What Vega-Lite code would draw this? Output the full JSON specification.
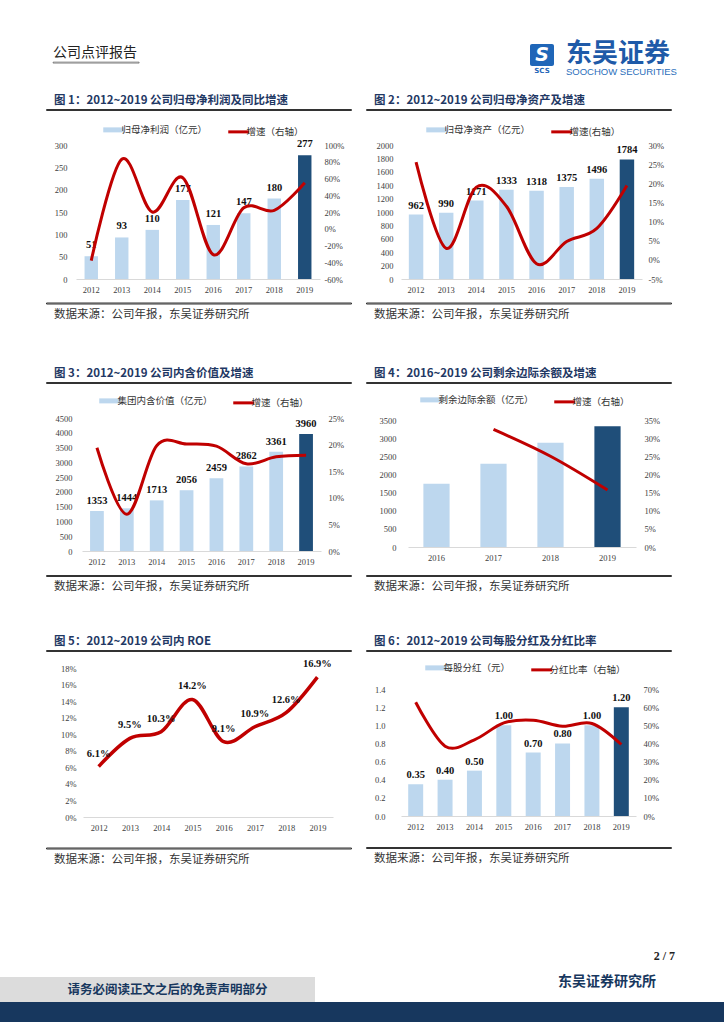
{
  "$schema": "https://vega.github.io/schema/vega-lite/v6.json",
  "padding": {"top": 41, "left": 0, "right": 0, "bottom": 0},
  "background": "white",
  "config": {
    "view": {"stroke": null},
    "font": "Noto Sans CJK SC",
    "axis": {"domain": false, "ticks": false, "grid": false, "labelFont": "Liberation Serif", "labelFontSize": 8.5, "labelColor": "#404040"},
    "axisX": {"domain": true, "domainColor": "#d9d9d9", "domainWidth": 1, "labelAngle": 0, "labelPadding": 6.5},
    "title": {"font": "Noto Sans CJK SC", "fontSize": 11.5, "fontWeight": "bold", "color": "#1f3864", "anchor": "start", "offset": 3, "dx": 8},
    "legend": {"orient": "none", "direction": "horizontal", "symbolType": "stroke", "symbolSize": 441, "labelFont": "Noto Sans CJK SC", "labelFontSize": 9.5, "labelColor": "#333", "columnPadding": 14, "labelOffset": 3}
  },
  "spacing": 0,
  "resolve": {"scale": {"color": "independent"}, "legend": {"color": "independent"}},
  "vconcat": [
    {
      "spacing": 0,
      "hconcat": [
        {"width": 52, "height": 1, "data": {"values": []}, "mark": "text", "encoding": {}},
        {"spacing": 0, "vconcat": [
          {"width": 1, "height": 1, "data": {"values": []}, "mark": "text", "encoding": {}},
          {"width": 86, "height": 1, "view": {"stroke": "#444", "strokeWidth": 0.6}, "data": {"values": []}, "mark": "text", "encoding": {},
           "title": {"text": "公司点评报告", "font": "Noto Sans CJK SC", "fontSize": 14, "fontWeight": "normal", "color": "#222", "anchor": "start", "offset": 2, "dx": 0}}
        ]},
        {"width": 390, "height": 1, "data": {"values": []}, "mark": "text", "encoding": {}},
        {"width": 24, "height": 22, "view": {"fill": "#1f66b8", "cornerRadius": 2, "stroke": null},
         "data": {"values": [{"t": "S"}]},
         "mark": {"type": "text", "color": "white", "font": "DejaVu Sans", "fontSize": 19, "fontWeight": "bold", "fontStyle": "italic"},
         "encoding": {"text": {"field": "t"}},
         "title": {"text": "SCS", "orient": "bottom", "anchor": "middle", "font": "DejaVu Sans", "fontSize": 7, "fontWeight": "bold", "color": "#1f66b8", "offset": 1, "dx": 0}},
        {"width": 12, "height": 1, "data": {"values": []}, "mark": "text", "encoding": {}},
        {"width": 110, "height": 1, "data": {"values": []}, "mark": "text", "encoding": {},
         "title": {"text": "东吴证券", "subtitle": "SOOCHOW SECURITIES", "orient": "bottom", "font": "Noto Sans CJK SC", "fontSize": 26, "fontWeight": "bold", "color": "#1e5aa8", "subtitleFont": "Liberation Sans", "subtitleFontSize": 9.5, "subtitleColor": "#2a6ebb", "subtitlePadding": 0, "anchor": "start", "offset": -4, "dx": 0}}
      ]
    },
    {"width": 1, "height": 17, "data": {"values": []}, "mark": "text", "encoding": {}},
    {
      "spacing": 0,
      "resolve": {"scale": {"color": "independent"}, "legend": {"color": "independent"}},
      "hconcat": [
        {"width": 45, "height": 1, "data": {"values": []}, "mark": "text", "encoding": {}},
        {
          "spacing": 14,
          "resolve": {"scale": {"color": "independent"}, "legend": {"color": "independent"}},
          "vconcat": [
            {"width": 305, "height": 1, "view": {"stroke": "#333", "strokeWidth": 1}, "data": {"values": []}, "mark": "text", "encoding": {}, "title": {"text": "图 1：2012~2019 公司归母净利润及同比增速"}},
            {
              "spacing": 7.5,
              "resolve": {"scale": {"color": "independent"}, "legend": {"color": "independent"}},
              "vconcat": [
                {"spacing": 0, "resolve": {"scale": {"color": "independent"}, "legend": {"color": "independent"}}, "hconcat": [
                  {"width": 1, "height": 1, "data": {"values": []}, "mark": "text", "encoding": {}},
                  {
                    "width": 244, "height": 134,
                    "data": {"values": [
                      {"year": "2012", "v": 51, "g": -0.38},
                      {"year": "2013", "v": 93, "g": 0.83},
                      {"year": "2014", "v": 110, "g": 0.2},
                      {"year": "2015", "v": 177, "g": 0.61},
                      {"year": "2016", "v": 121, "g": -0.31},
                      {"year": "2017", "v": 147, "g": 0.25},
                      {"year": "2018", "v": 180, "g": 0.22},
                      {"year": "2019", "v": 277, "g": 0.55}
                    ]},
                    "encoding": {"x": {"field": "year", "type": "ordinal", "scale": {"paddingInner": 0.56, "paddingOuter": 0.28}, "axis": {"title": null}}},
                    "layer": [
                      {
                        "encoding": {"y": {"field": "v", "type": "quantitative", "scale": {"domain": [0, 300]}, "axis": {"title": null, "orient": "left", "values": [0, 50, 100, 150, 200, 250, 300], "format": "d", "labelPadding": 9, "minExtent": 29, "maxExtent": 29}}},
                        "layer": [
                          {"transform": [{"filter": "datum.year != '2019'"}], "mark": "bar",
                           "encoding": {"color": {"datum": "归母净利润（亿元）", "scale": {"domain": ["归母净利润（亿元）", "增速（右轴）"], "range": ["#bdd7ee", "#c00000"]},
                             "legend": {"title": null, "legendX": 33, "legendY": -20, "encode": {"symbols": {"update": {"stroke": {"scale": "color", "field": "value"}, "strokeWidth": {"signal": "datum.index === 0 ? 5 : 3"}}}}}}}},
                          {"transform": [{"filter": "datum.year == '2019'"}], "mark": {"type": "bar", "color": "#1f4e79"}},
                          {"mark": {"type": "text", "dy": -11, "font": "Liberation Serif", "fontWeight": "bold", "fontSize": 10.5, "color": "#111"}, "encoding": {"text": {"field": "v", "type": "quantitative"}}}
                        ]
                      },
                      {"mark": {"type": "line", "interpolate": "cardinal", "strokeWidth": 3},
                       "encoding": {
                         "y": {"field": "g", "type": "quantitative", "scale": {"domain": [-0.6, 1]}, "axis": {"title": null, "orient": "right", "values": [-0.6, -0.4, -0.2, 0, 0.2, 0.4, 0.6, 0.8, 1], "labelExpr": "(datum.value < 0 ? '-' : '') + round(abs(datum.value) * 100) + '%'", "labelPadding": 4}},
                         "color": {"datum": "增速（右轴）", "legend": {"title": null, "legendX": 33, "legendY": -20, "encode": {"symbols": {"update": {"stroke": {"scale": "color", "field": "value"}, "strokeWidth": {"signal": "datum.index === 0 ? 5 : 3"}}}}}}
                       }}
                    ],
                    "resolve": {"scale": {"y": "independent"}}
                  }
                ]},
                {"width": 305, "height": 1, "view": {"stroke": "#333", "strokeWidth": 1}, "data": {"values": []}, "mark": "text", "encoding": {}, "title": {"text": "数据来源：公司年报，东吴证券研究所", "orient": "bottom", "anchor": "start", "fontSize": 11.5, "fontWeight": "normal", "color": "#333", "offset": 5}}
              ]
            }
          ]
        },
        {"width": 13, "height": 1, "data": {"values": []}, "mark": "text", "encoding": {}},
        {
          "spacing": 14,
          "resolve": {"scale": {"color": "independent"}, "legend": {"color": "independent"}},
          "vconcat": [
            {"width": 305, "height": 1, "view": {"stroke": "#333", "strokeWidth": 1}, "data": {"values": []}, "mark": "text", "encoding": {}, "title": {"text": "图 2：2012~2019 公司归母净资产及增速"}},
            {
              "spacing": 7.5,
              "resolve": {"scale": {"color": "independent"}, "legend": {"color": "independent"}},
              "vconcat": [
                {"spacing": 0, "resolve": {"scale": {"color": "independent"}, "legend": {"color": "independent"}}, "hconcat": [
                  {"width": 1, "height": 1, "data": {"values": []}, "mark": "text", "encoding": {}},
                  {
                    "width": 241, "height": 134,
                    "data": {"values": [
                      {"year": "2012", "v": 962, "g": 0.255},
                      {"year": "2013", "v": 990, "g": 0.03},
                      {"year": "2014", "v": 1171, "g": 0.19},
                      {"year": "2015", "v": 1333, "g": 0.14},
                      {"year": "2016", "v": 1318, "g": -0.01},
                      {"year": "2017", "v": 1375, "g": 0.048},
                      {"year": "2018", "v": 1496, "g": 0.082},
                      {"year": "2019", "v": 1784, "g": 0.194}
                    ]},
                    "encoding": {"x": {"field": "year", "type": "ordinal", "scale": {"paddingInner": 0.52, "paddingOuter": 0.26}, "axis": {"title": null}}},
                    "layer": [
                      {
                        "encoding": {"y": {"field": "v", "type": "quantitative", "scale": {"domain": [0, 2000]}, "axis": {"title": null, "orient": "left", "values": [0, 200, 400, 600, 800, 1000, 1200, 1400, 1600, 1800, 2000], "format": "d", "labelPadding": 8, "minExtent": 34, "maxExtent": 34}}},
                        "layer": [
                          {"transform": [{"filter": "datum.year != '2019'"}], "mark": "bar",
                           "encoding": {"color": {"datum": "归母净资产（亿元）", "scale": {"domain": ["归母净资产（亿元）", "增速(右轴）"], "range": ["#bdd7ee", "#c00000"]},
                             "legend": {"title": null, "legendX": 31, "legendY": -20, "encode": {"symbols": {"update": {"stroke": {"scale": "color", "field": "value"}, "strokeWidth": {"signal": "datum.index === 0 ? 5 : 3"}}}}}}}},
                          {"transform": [{"filter": "datum.year == '2019'"}], "mark": {"type": "bar", "color": "#1f4e79"}},
                          {"mark": {"type": "text", "dy": -9, "font": "Liberation Serif", "fontWeight": "bold", "fontSize": 10.5, "color": "#111"}, "encoding": {"text": {"field": "v", "type": "quantitative", "format": "d"}}}
                        ]
                      },
                      {"mark": {"type": "line", "interpolate": "cardinal", "strokeWidth": 3},
                       "encoding": {
                         "y": {"field": "g", "type": "quantitative", "scale": {"domain": [-0.05, 0.3]}, "axis": {"title": null, "orient": "right", "values": [-0.05, 0, 0.05, 0.1, 0.15, 0.2, 0.25, 0.3], "labelExpr": "(datum.value < 0 ? '-' : '') + round(abs(datum.value) * 100) + '%'", "labelPadding": 6}},
                         "color": {"datum": "增速(右轴）", "legend": {"title": null, "legendX": 31, "legendY": -20, "encode": {"symbols": {"update": {"stroke": {"scale": "color", "field": "value"}, "strokeWidth": {"signal": "datum.index === 0 ? 5 : 3"}}}}}}
                       }}
                    ],
                    "resolve": {"scale": {"y": "independent"}}
                  }
                ]},
                {"width": 305, "height": 1, "view": {"stroke": "#333", "strokeWidth": 1}, "data": {"values": []}, "mark": "text", "encoding": {}, "title": {"text": "数据来源：公司年报，东吴证券研究所", "orient": "bottom", "anchor": "start", "fontSize": 11.5, "fontWeight": "normal", "color": "#333", "offset": 5}}
              ]
            }
          ]
        }
      ]
    },
    {"width": 1, "height": 46, "data": {"values": []}, "mark": "text", "encoding": {}},
    {
      "spacing": 0,
      "resolve": {"scale": {"color": "independent"}, "legend": {"color": "independent"}},
      "hconcat": [
        {"width": 45, "height": 1, "data": {"values": []}, "mark": "text", "encoding": {}},
        {
          "spacing": 12,
          "resolve": {"scale": {"color": "independent"}, "legend": {"color": "independent"}},
          "vconcat": [
            {"width": 305, "height": 1, "view": {"stroke": "#333", "strokeWidth": 1}, "data": {"values": []}, "mark": "text", "encoding": {}, "title": {"text": "图 3：2012~2019 公司内含价值及增速"}},
            {
              "spacing": 8,
              "resolve": {"scale": {"color": "independent"}, "legend": {"color": "independent"}},
              "vconcat": [
                {"spacing": 0, "resolve": {"scale": {"color": "independent"}, "legend": {"color": "independent"}}, "hconcat": [
                  {"width": 1, "height": 1, "data": {"values": []}, "mark": "text", "encoding": {}},
                  {
                    "width": 239, "height": 133,
                    "data": {"values": [
                      {"year": "2012", "v": 1353, "g": 0.194},
                      {"year": "2013", "v": 1444, "g": 0.069},
                      {"year": "2014", "v": 1713, "g": 0.198},
                      {"year": "2015", "v": 2056, "g": 0.201},
                      {"year": "2016", "v": 2459, "g": 0.197},
                      {"year": "2017", "v": 2862, "g": 0.164},
                      {"year": "2018", "v": 3361, "g": 0.177},
                      {"year": "2019", "v": 3960, "g": 0.18}
                    ]},
                    "encoding": {"x": {"field": "year", "type": "ordinal", "scale": {"paddingInner": 0.54, "paddingOuter": 0.27}, "axis": {"title": null}}},
                    "layer": [
                      {
                        "encoding": {"y": {"field": "v", "type": "quantitative", "scale": {"domain": [0, 4500]}, "axis": {"title": null, "orient": "left", "values": [0, 500, 1000, 1500, 2000, 2500, 3000, 3500, 4000, 4500], "format": "d", "labelPadding": 10, "minExtent": 35, "maxExtent": 35}}},
                        "layer": [
                          {"transform": [{"filter": "datum.year != '2019'"}], "mark": "bar",
                           "encoding": {"color": {"datum": "集团内含价值（亿元）", "scale": {"domain": ["集团内含价值（亿元）", "增速（右轴）"], "range": ["#bdd7ee", "#c00000"]},
                             "legend": {"title": null, "legendX": 23, "legendY": -22, "encode": {"symbols": {"update": {"stroke": {"scale": "color", "field": "value"}, "strokeWidth": {"signal": "datum.index === 0 ? 5 : 3"}}}}}}}},
                          {"transform": [{"filter": "datum.year == '2019'"}], "mark": {"type": "bar", "color": "#1f4e79"}},
                          {"mark": {"type": "text", "dy": -10, "font": "Liberation Serif", "fontWeight": "bold", "fontSize": 10.5, "color": "#111"}, "encoding": {"text": {"field": "v", "type": "quantitative", "format": "d"}}}
                        ]
                      },
                      {"mark": {"type": "line", "interpolate": "cardinal", "strokeWidth": 3},
                       "encoding": {
                         "y": {"field": "g", "type": "quantitative", "scale": {"domain": [0, 0.25]}, "axis": {"title": null, "orient": "right", "values": [0, 0.05, 0.1, 0.15, 0.2, 0.25], "labelExpr": "(datum.value < 0 ? '-' : '') + round(abs(datum.value) * 100) + '%'", "labelPadding": 7}},
                         "color": {"datum": "增速（右轴）", "legend": {"title": null, "legendX": 23, "legendY": -22, "encode": {"symbols": {"update": {"stroke": {"scale": "color", "field": "value"}, "strokeWidth": {"signal": "datum.index === 0 ? 5 : 3"}}}}}}
                       }}
                    ],
                    "resolve": {"scale": {"y": "independent"}}
                  }
                ]},
                {"width": 305, "height": 1, "view": {"stroke": "#333", "strokeWidth": 1}, "data": {"values": []}, "mark": "text", "encoding": {}, "title": {"text": "数据来源：公司年报，东吴证券研究所", "orient": "bottom", "anchor": "start", "fontSize": 11.5, "fontWeight": "normal", "color": "#333", "offset": 5}}
              ]
            }
          ]
        },
        {"width": 13, "height": 1, "data": {"values": []}, "mark": "text", "encoding": {}},
        {
          "spacing": 11,
          "resolve": {"scale": {"color": "independent"}, "legend": {"color": "independent"}},
          "vconcat": [
            {"width": 305, "height": 1, "view": {"stroke": "#333", "strokeWidth": 1}, "data": {"values": []}, "mark": "text", "encoding": {}, "title": {"text": "图 4：2016~2019 公司剩余边际余额及增速"}},
            {
              "spacing": 12,
              "resolve": {"scale": {"color": "independent"}, "legend": {"color": "independent"}},
              "vconcat": [
                {"spacing": 0, "resolve": {"scale": {"color": "independent"}, "legend": {"color": "independent"}}, "hconcat": [
                  {"width": 1, "height": 1, "data": {"values": []}, "mark": "text", "encoding": {}},
                  {
                    "width": 228, "height": 127,
                    "data": {"values": [
                      {"year": "2016", "v": 1741, "g": null},
                      {"year": "2017", "v": 2293, "g": 0.324},
                      {"year": "2018", "v": 2874, "g": 0.25},
                      {"year": "2019", "v": 3325, "g": 0.157}
                    ]},
                    "encoding": {"x": {"field": "year", "type": "ordinal", "scale": {"paddingInner": 0.54, "paddingOuter": 0.27}, "axis": {"title": null}}},
                    "layer": [
                      {
                        "encoding": {"y": {"field": "v", "type": "quantitative", "scale": {"domain": [0, 3500]}, "axis": {"title": null, "orient": "left", "values": [0, 500, 1000, 1500, 2000, 2500, 3000, 3500], "format": "d", "labelPadding": 12, "minExtent": 41, "maxExtent": 41}}},
                        "layer": [
                          {"transform": [{"filter": "datum.year != '2019'"}], "mark": "bar",
                           "encoding": {"color": {"datum": "剩余边际余额（亿元）", "scale": {"domain": ["剩余边际余额（亿元）", "增速（右轴）"], "range": ["#bdd7ee", "#c00000"]},
                             "legend": {"title": null, "legendX": 18, "legendY": -25, "encode": {"symbols": {"update": {"stroke": {"scale": "color", "field": "value"}, "strokeWidth": {"signal": "datum.index === 0 ? 5 : 3"}}}}}}}},
                          {"transform": [{"filter": "datum.year == '2019'"}], "mark": {"type": "bar", "color": "#1f4e79"}}
                        ]
                      },
                      {"mark": {"type": "line", "interpolate": "cardinal", "strokeWidth": 3},
                       "encoding": {
                         "y": {"field": "g", "type": "quantitative", "scale": {"domain": [0, 0.35]}, "axis": {"title": null, "orient": "right", "values": [0, 0.05, 0.1, 0.15, 0.2, 0.25, 0.3, 0.35], "labelExpr": "(datum.value < 0 ? '-' : '') + round(abs(datum.value) * 100) + '%'", "labelPadding": 8}},
                         "color": {"datum": "增速（右轴）", "legend": {"title": null, "legendX": 18, "legendY": -25, "encode": {"symbols": {"update": {"stroke": {"scale": "color", "field": "value"}, "strokeWidth": {"signal": "datum.index === 0 ? 5 : 3"}}}}}}
                       }}
                    ],
                    "resolve": {"scale": {"y": "independent"}}
                  }
                ]},
                {"width": 305, "height": 1, "view": {"stroke": "#333", "strokeWidth": 1}, "data": {"values": []}, "mark": "text", "encoding": {}, "title": {"text": "数据来源：公司年报，东吴证券研究所", "orient": "bottom", "anchor": "start", "fontSize": 11.5, "fontWeight": "normal", "color": "#333", "offset": 5}}
              ]
            }
          ]
        }
      ]
    },
    {"width": 1, "height": 41.5, "data": {"values": []}, "mark": "text", "encoding": {}},
    {
      "spacing": 0,
      "resolve": {"scale": {"color": "independent"}, "legend": {"color": "independent"}},
      "hconcat": [
        {"width": 45, "height": 1, "data": {"values": []}, "mark": "text", "encoding": {}},
        {
          "spacing": 7,
          "resolve": {"scale": {"color": "independent"}, "legend": {"color": "independent"}},
          "vconcat": [
            {"width": 305, "height": 1, "view": {"stroke": "#333", "strokeWidth": 1}, "data": {"values": []}, "mark": "text", "encoding": {}, "title": {"text": "图 5：2012~2019 公司内 ROE"}},
            {
              "spacing": 14.5,
              "resolve": {"scale": {"color": "independent"}, "legend": {"color": "independent"}},
              "vconcat": [
                {"spacing": 0, "hconcat": [
                  {"width": 1, "height": 1, "data": {"values": []}, "mark": "text", "encoding": {}},
                  {
                    "width": 250, "height": 149,
                    "data": {"values": [
                      {"year": "2012", "r": 0.061},
                      {"year": "2013", "r": 0.095},
                      {"year": "2014", "r": 0.103},
                      {"year": "2015", "r": 0.142},
                      {"year": "2016", "r": 0.091},
                      {"year": "2017", "r": 0.109},
                      {"year": "2018", "r": 0.126},
                      {"year": "2019", "r": 0.169}
                    ]},
                    "encoding": {
                      "x": {"field": "year", "type": "ordinal", "axis": {"title": null}},
                      "y": {"field": "r", "type": "quantitative", "scale": {"domain": [0, 0.18]}, "axis": {"title": null, "values": [0, 0.02, 0.04, 0.06, 0.08, 0.1, 0.12, 0.14, 0.16, 0.18], "labelExpr": "round(datum.value * 100) + '%'", "labelPadding": 7, "minExtent": 36, "maxExtent": 36}}
                    },
                    "layer": [
                      {"mark": {"type": "line", "interpolate": "cardinal", "strokeWidth": 3.5, "color": "#c00000"}},
                      {"mark": {"type": "text", "dy": -13, "font": "Liberation Serif", "fontWeight": "bold", "fontSize": 10.5, "color": "#111"}, "encoding": {"text": {"field": "r", "type": "quantitative", "format": ".1%"}}}
                    ]
                  }
                ]},
                {"width": 305, "height": 1, "view": {"stroke": "#333", "strokeWidth": 1}, "data": {"values": []}, "mark": "text", "encoding": {}, "title": {"text": "数据来源：公司年报，东吴证券研究所", "orient": "bottom", "anchor": "start", "fontSize": 11.5, "fontWeight": "normal", "color": "#333", "offset": 5}}
              ]
            }
          ]
        },
        {"width": 13, "height": 1, "data": {"values": []}, "mark": "text", "encoding": {}},
        {
          "spacing": 11,
          "resolve": {"scale": {"color": "independent"}, "legend": {"color": "independent"}},
          "vconcat": [
            {"width": 305, "height": 1, "view": {"stroke": "#333", "strokeWidth": 1}, "data": {"values": []}, "mark": "text", "encoding": {}, "title": {"text": "图 6：2012~2019 公司每股分红及分红比率"}},
            {
              "spacing": 15,
              "resolve": {"scale": {"color": "independent"}, "legend": {"color": "independent"}},
              "vconcat": [
                {"spacing": 0, "resolve": {"scale": {"color": "independent"}, "legend": {"color": "independent"}}, "hconcat": [
                  {"width": 1, "height": 1, "data": {"values": []}, "mark": "text", "encoding": {}},
                  {
                    "width": 235, "height": 127,
                    "data": {"values": [
                      {"year": "2012", "v": 0.35, "g": 0.627},
                      {"year": "2013", "v": 0.4, "g": 0.385},
                      {"year": "2014", "v": 0.5, "g": 0.42},
                      {"year": "2015", "v": 1.0, "g": 0.513},
                      {"year": "2016", "v": 0.7, "g": 0.528},
                      {"year": "2017", "v": 0.8, "g": 0.495},
                      {"year": "2018", "v": 1.0, "g": 0.51},
                      {"year": "2019", "v": 1.2, "g": 0.394}
                    ]},
                    "encoding": {"x": {"field": "year", "type": "ordinal", "scale": {"paddingInner": 0.49, "paddingOuter": 0.245}, "axis": {"title": null}}},
                    "layer": [
                      {
                        "encoding": {"y": {"field": "v", "type": "quantitative", "scale": {"domain": [0, 1.4]}, "axis": {"title": null, "orient": "left", "values": [0, 0.2, 0.4, 0.6, 0.8, 1.0, 1.2, 1.4], "format": ".1f", "labelPadding": 16, "minExtent": 34, "maxExtent": 34}}},
                        "layer": [
                          {"transform": [{"filter": "datum.year != '2019'"}], "mark": "bar",
                           "encoding": {"color": {"datum": "每股分红（元）", "scale": {"domain": ["每股分红（元）", "分红比率（右轴）"], "range": ["#bdd7ee", "#c00000"]},
                             "legend": {"title": null, "legendX": 30, "legendY": -26, "encode": {"symbols": {"update": {"stroke": {"scale": "color", "field": "value"}, "strokeWidth": {"signal": "datum.index === 0 ? 5 : 3"}}}}}}}},
                          {"transform": [{"filter": "datum.year == '2019'"}], "mark": {"type": "bar", "color": "#1f4e79"}},
                          {"mark": {"type": "text", "dy": -9, "font": "Liberation Serif", "fontWeight": "bold", "fontSize": 10.5, "color": "#111"}, "encoding": {"text": {"field": "v", "type": "quantitative", "format": ".2f"}}}
                        ]
                      },
                      {"mark": {"type": "line", "interpolate": "cardinal", "strokeWidth": 3},
                       "encoding": {
                         "y": {"field": "g", "type": "quantitative", "scale": {"domain": [0, 0.7]}, "axis": {"title": null, "orient": "right", "values": [0, 0.1, 0.2, 0.3, 0.4, 0.5, 0.6, 0.7], "labelExpr": "round(datum.value * 100) + '%'", "labelPadding": 7}},
                         "color": {"datum": "分红比率（右轴）", "legend": {"title": null, "legendX": 30, "legendY": -26, "encode": {"symbols": {"update": {"stroke": {"scale": "color", "field": "value"}, "strokeWidth": {"signal": "datum.index === 0 ? 5 : 3"}}}}}}
                       }}
                    ],
                    "resolve": {"scale": {"y": "independent"}}
                  }
                ]},
                {"width": 305, "height": 1, "view": {"stroke": "#333", "strokeWidth": 1}, "data": {"values": []}, "mark": "text", "encoding": {}, "title": {"text": "数据来源：公司年报，东吴证券研究所", "orient": "bottom", "anchor": "start", "fontSize": 11.5, "fontWeight": "normal", "color": "#333", "offset": 5}}
              ]
            }
          ]
        }
      ]
    },
    {"width": 1, "height": 83.5, "data": {"values": []}, "mark": "text", "encoding": {}},
    {
      "spacing": 0,
      "vconcat": [
        {"width": 675, "height": 11, "data": {"values": []}, "mark": "text", "encoding": {},
         "title": {"text": "2 / 7", "anchor": "end", "font": "Liberation Serif", "fontSize": 12, "fontWeight": "bold", "color": "#222", "offset": 0, "dx": 0}},
        {"spacing": 0, "hconcat": [
          {"width": 315, "height": 25, "view": {"fill": "#dcdcdc", "stroke": null}, "data": {"values": [{"t": "请务必阅读正文之后的免责声明部分"}]},
           "mark": {"type": "text", "font": "Noto Sans CJK SC", "fontSize": 12.5, "fontWeight": "bold", "color": "#17375e", "dx": 10}, "encoding": {"text": {"field": "t"}}},
          {"width": 225, "height": 25, "data": {"values": []}, "mark": "text", "encoding": {}},
          {"width": 134, "height": 25, "data": {"values": [{"t": "东吴证券研究所"}]},
           "mark": {"type": "text", "font": "Noto Sans CJK SC", "fontSize": 14, "fontWeight": "bold", "color": "#17375e", "dy": -8}, "encoding": {"text": {"field": "t"}}}
        ]},
        {"width": 724, "height": 20, "view": {"fill": "#17375e", "stroke": null}, "data": {"values": []}, "mark": "text", "encoding": {}}
      ]
    }
  ]
}
